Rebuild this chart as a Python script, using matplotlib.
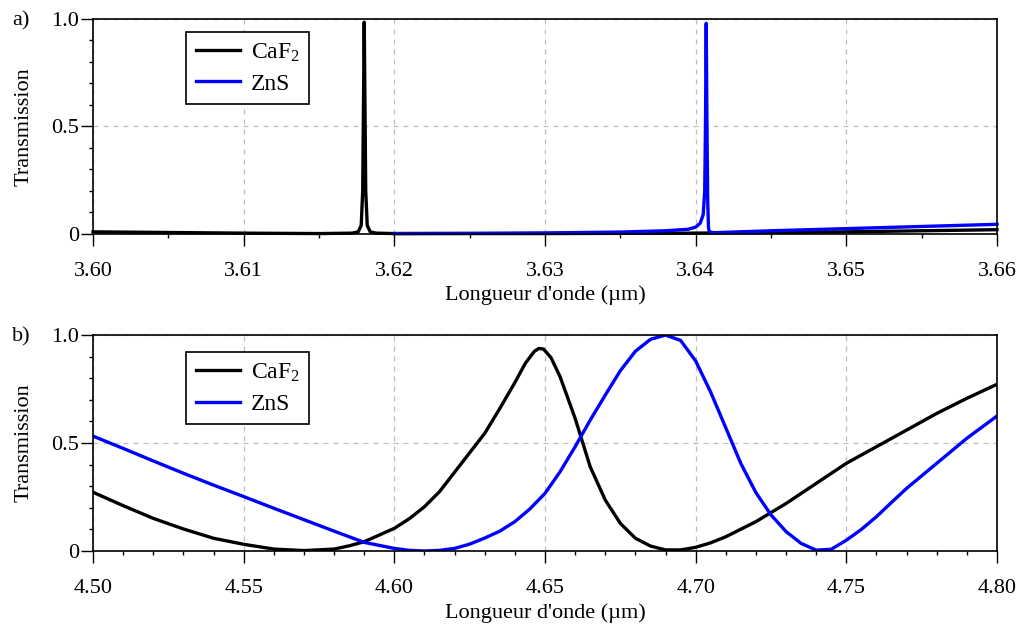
import matplotlib
matplotlib.use("Agg")
import matplotlib.pyplot as plt
from matplotlib.ticker import MultipleLocator, FixedLocator, FixedFormatter

plt.rcParams['font.family'] = ['Liberation Serif', 'DejaVu Serif']
plt.rcParams['mathtext.fontset'] = 'custom'
plt.rcParams['mathtext.rm'] = 'Liberation Serif'
plt.rcParams['mathtext.it'] = 'Liberation Serif:italic'

# Panel a) - narrow resonances
a_caf2_x = [3.600, 3.605, 3.610, 3.615, 3.6172, 3.6176, 3.6178, 3.6179, 3.61795, 3.6180,
            3.61805, 3.6181, 3.6182, 3.6184, 3.6188, 3.620, 3.630, 3.640, 3.650, 3.660]
a_caf2_y = [0.010, 0.007, 0.004, 0.002, 0.004, 0.010, 0.040, 0.200, 0.600, 0.985,
            0.600, 0.200, 0.040, 0.010, 0.004, 0.002, 0.002, 0.004, 0.010, 0.020]
a_zns_x = [3.620, 3.625, 3.630, 3.635, 3.638, 3.6395, 3.6400, 3.6403, 3.6405, 3.6406,
           3.64065, 3.6407, 3.64075, 3.6408, 3.64085, 3.6409, 3.6412, 3.645, 3.650, 3.655, 3.660]
a_zns_y = [0.002, 0.003, 0.005, 0.009, 0.015, 0.022, 0.032, 0.050, 0.090, 0.200,
           0.500, 0.980, 0.500, 0.150, 0.030, 0.010, 0.006, 0.015, 0.025, 0.035, 0.045]

# Panel b) - broad fringes
b_caf2_x = [4.50, 4.51, 4.52, 4.53, 4.54, 4.55, 4.56, 4.57, 4.58, 4.585, 4.59, 4.595,
            4.60, 4.605, 4.61, 4.615, 4.62, 4.625, 4.63, 4.635, 4.64, 4.6435, 4.6465,
            4.648, 4.6495, 4.652, 4.655, 4.66, 4.665, 4.67, 4.675, 4.68, 4.685, 4.69,
            4.695, 4.70, 4.705, 4.71, 4.72, 4.73, 4.74, 4.75, 4.76, 4.77, 4.78, 4.79, 4.80]
b_caf2_y = [0.272, 0.210, 0.151, 0.102, 0.059, 0.031, 0.009, 0.002, 0.009, 0.024, 0.043,
            0.074, 0.105, 0.150, 0.205, 0.275, 0.365, 0.455, 0.545, 0.660, 0.780, 0.870,
            0.925, 0.938, 0.935, 0.895, 0.807, 0.614, 0.390, 0.236, 0.128, 0.059, 0.023,
            0.005, 0.005, 0.017, 0.038, 0.066, 0.136, 0.220, 0.313, 0.406, 0.483, 0.560,
            0.637, 0.707, 0.772]
b_zns_x = [4.50, 4.51, 4.52, 4.53, 4.54, 4.55, 4.56, 4.57, 4.58, 4.59, 4.60, 4.605, 4.61,
           4.615, 4.62, 4.625, 4.63, 4.635, 4.64, 4.645, 4.65, 4.655, 4.66, 4.665, 4.67,
           4.675, 4.68, 4.685, 4.69, 4.695, 4.70, 4.705, 4.71, 4.715, 4.72, 4.725, 4.73,
           4.735, 4.74, 4.745, 4.75, 4.755, 4.76, 4.765, 4.77, 4.78, 4.79, 4.80]
b_zns_y = [0.532, 0.475, 0.417, 0.360, 0.305, 0.252, 0.198, 0.145, 0.092, 0.040, 0.012,
           0.003, 0.000, 0.003, 0.012, 0.032, 0.060, 0.092, 0.136, 0.195, 0.267, 0.367,
           0.483, 0.606, 0.722, 0.835, 0.925, 0.980, 1.000, 0.975, 0.880, 0.735, 0.570,
           0.405, 0.270, 0.167, 0.090, 0.035, 0.004, 0.008, 0.050, 0.100, 0.159, 0.225,
           0.290, 0.406, 0.522, 0.625]

y_ticks = [0, 0.5, 1.0]
y_tick_labels = ['0', '0.5', '1.0']
series_labels = ['CaF$_2$', 'ZnS']
colors = ['#000000', '#0000ff']

FS = 16

fig = plt.figure(figsize=(10.19, 6.26), dpi=100)
ax_a = fig.add_axes([0.0913, 0.6262, 0.8871, 0.3435])
ax_b = fig.add_axes([0.0913, 0.1198, 0.8871, 0.3450])


def style_axis(ax, xlim, xmajor, xminor, fmt):
    ax.set_xlim(*xlim)
    ax.set_ylim(0, 1.0)
    ax.xaxis.set_major_locator(MultipleLocator(xmajor))
    ax.xaxis.set_minor_locator(MultipleLocator(xminor))
    ax.xaxis.set_major_formatter(plt.FormatStrFormatter(fmt))
    ax.yaxis.set_major_locator(FixedLocator(y_ticks))
    ax.yaxis.set_major_formatter(FixedFormatter(y_tick_labels))
    ax.yaxis.set_minor_locator(MultipleLocator(0.1))
    ax.tick_params(which='both', direction='out', top=False, right=False,
                   labelsize=FS, width=1.0)
    ax.tick_params(which='major', length=8.5)
    ax.tick_params(axis='x', which='major', pad=12)
    ax.tick_params(axis='y', which='major', pad=1.5)
    ax.tick_params(which='minor', length=3)
    ax.grid(True, which='major', color='#bdbdbd', linestyle=(0, (4, 4)), linewidth=0.9)
    for s in ax.spines.values():
        s.set_linewidth(1.2)
    ax.set_ylabel('Transmission', fontsize=FS)
    ax.set_xlabel("Longueur d'onde (\u00b5m)", fontsize=FS, va='top')
    ax.yaxis.set_label_coords(-0.066, 0.5)
    ax.xaxis.set_label_coords(0.5, -0.24)


ax_a.plot(a_caf2_x, a_caf2_y, color=colors[0], lw=2.4, label=series_labels[0], clip_on=False)
ax_a.plot(a_zns_x, a_zns_y, color=colors[1], lw=2.4, label=series_labels[1], clip_on=False)
style_axis(ax_a, (3.60, 3.66), 0.01, 0.005, '%.2f')

ax_b.plot(b_caf2_x, b_caf2_y, color=colors[0], lw=2.4, label=series_labels[0])
ax_b.plot(b_zns_x, b_zns_y, color=colors[1], lw=2.4, label=series_labels[1])
style_axis(ax_b, (4.50, 4.80), 0.05, 0.01, '%.2f')

for ax, top in [(ax_a, 0.94), (ax_b, 0.921)]:
    leg = ax.legend(loc='upper left', bbox_to_anchor=(0.103, top), borderaxespad=0,
                    fontsize=17, fancybox=False, framealpha=1, edgecolor='black',
                    handlelength=1.9, handletextpad=0.45, borderpad=0.4, labelspacing=0.4)
    leg.get_frame().set_linewidth(1.2)

fig.text(0.012, 0.967, 'a)', fontsize=FS, va='center', ha='left')
fig.text(0.012, 0.462, 'b)', fontsize=FS, va='center', ha='left')

fig.savefig('out.png', dpi=100)
